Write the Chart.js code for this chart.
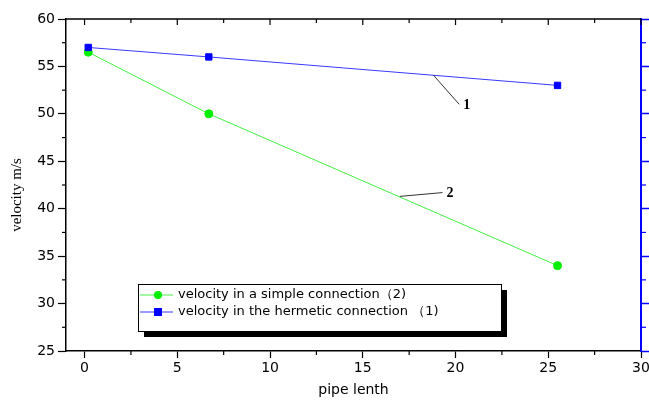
<!DOCTYPE html>
<html>
<head>
<meta charset="utf-8">
<script src="https://cdn.jsdelivr.net/npm/chart.js@4.4.1/dist/chart.umd.min.js"></script>
<style>
  html, body { margin: 0; padding: 0; background: #fff; }
  #wrap { width: 649px; height: 403px; }
</style>
</head>
<body>
<div id="wrap"><canvas id="velocityChart"></canvas></div>
<script>
// Data
const pipeLength = [0.2, 6.7, 25.5];
const simpleVelocity = [56.5, 50, 34];     // (2)
const hermeticVelocity = [57, 56, 53];     // (1)
const xTickValues = [0, 5, 10, 15, 20, 25, 30];
const yTickValues = [25, 30, 35, 40, 45, 50, 55, 60];

// Callout labels "1" and "2": line from a point on the curve to the label
const calloutText = ["1", "2"];
const calloutFromX = [18.8, 17.0];
const calloutFromY = [54.1, 41.3];
const calloutToX = [20.2, 19.3];
const calloutToY = [51.0, 41.7];

const FONT = "'DejaVu Sans', 'Liberation Sans', sans-serif";
const SERIF = "'Liberation Serif', 'DejaVu Serif', serif";

function toPoints(xs, ys) {
  return xs.map((x, i) => ({ x: x, y: ys[i] }));
}

function setTicks(values) {
  return (scale) => {
    scale.ticks = values.map((v) => ({ value: v }));
  };
}

// Frame: top axis, minor ticks, axis title, callouts and legend box
const framePlugin = {
  id: "frame",
  afterDraw(chart) {
    const { ctx, chartArea } = chart;
    const xs = chart.scales.x;
    const ys = chart.scales.y;
    ctx.save();

    // top axis line
    ctx.strokeStyle = "#000";
    ctx.lineWidth = 1.5;
    ctx.beginPath();
    ctx.moveTo(chartArea.left, chartArea.top);
    ctx.lineTo(chartArea.right, chartArea.top);
    ctx.stroke();

    // x ticks: top (inward) major + minor, bottom minor
    ctx.lineWidth = 1.2;
    xTickValues.forEach((v, i) => {
      const px = xs.getPixelForValue(v);
      ctx.beginPath();
      ctx.moveTo(px, chartArea.top);
      ctx.lineTo(px, chartArea.top + 6);
      ctx.stroke();
      if (i < xTickValues.length - 1) {
        const mx = xs.getPixelForValue(v + 2.5);
        ctx.beginPath();
        ctx.moveTo(mx, chartArea.top);
        ctx.lineTo(mx, chartArea.top + 4);
        ctx.moveTo(mx, chartArea.bottom);
        ctx.lineTo(mx, chartArea.bottom + 4);
        ctx.stroke();
      }
    });

    // y minor ticks: left black, right blue
    yTickValues.slice(0, -1).forEach((v) => {
      const my = ys.getPixelForValue(v + 2.5);
      ctx.strokeStyle = "#000";
      ctx.beginPath();
      ctx.moveTo(chartArea.left, my);
      ctx.lineTo(chartArea.left - 4, my);
      ctx.stroke();
      ctx.strokeStyle = "#0000ff";
      ctx.beginPath();
      ctx.moveTo(chartArea.right, my);
      ctx.lineTo(chartArea.right + 5, my);
      ctx.stroke();
    });

    // y axis title (serif)
    ctx.fillStyle = "#000";
    ctx.font = "15px " + SERIF;
    ctx.textAlign = "center";
    ctx.textBaseline = "middle";
    ctx.translate(17, 195);
    ctx.rotate(-Math.PI / 2);
    ctx.fillText("velocity m/s", 0, 0);
    ctx.setTransform(1, 0, 0, 1, 0, 0);

    // callouts
    ctx.strokeStyle = "#333";
    ctx.lineWidth = 1;
    ctx.font = "bold 14px " + SERIF;
    ctx.textAlign = "left";
    ctx.textBaseline = "middle";
    calloutText.forEach((t, i) => {
      const x0 = xs.getPixelForValue(calloutFromX[i]);
      const y0 = ys.getPixelForValue(calloutFromY[i]);
      const x1 = xs.getPixelForValue(calloutToX[i]);
      const y1 = ys.getPixelForValue(calloutToY[i]);
      ctx.beginPath();
      ctx.moveTo(x0, y0);
      ctx.lineTo(x1, y1);
      ctx.stroke();
      ctx.fillStyle = "#000";
      ctx.fillText(t, x1 + 4, y1 + 1);
    });

    // legend box with shadow
    const bx = 138, by = 284, bw = 363, bh = 47;
    ctx.fillStyle = "#000";
    ctx.fillRect(bx + 6, by + 6, bw, bh);
    ctx.fillStyle = "#fff";
    ctx.fillRect(bx, by, bw, bh);
    ctx.strokeStyle = "#000";
    ctx.lineWidth = 1;
    ctx.strokeRect(bx + 0.5, by + 0.5, bw, bh);

    ctx.font = "13px " + FONT;
    ctx.textBaseline = "middle";
    chart.data.datasets.forEach((ds, i) => {
      const ry = by + 11 + i * 17;
      ctx.strokeStyle = ds.borderColor;
      ctx.beginPath();
      ctx.moveTo(bx + 2, ry);
      ctx.lineTo(bx + 35, ry);
      ctx.stroke();
      ctx.fillStyle = ds.pointBackgroundColor;
      if (ds.pointStyle === "rect") {
        ctx.fillRect(bx + 16, ry - 4, 8, 8);
      } else {
        ctx.beginPath();
        ctx.arc(bx + 20, ry, 4, 0, Math.PI * 2);
        ctx.fill();
      }
      ctx.fillStyle = "#000";
      ctx.fillText(ds.label, bx + 40, ry);
    });

    ctx.restore();
  },
};

const ctx = document.getElementById("velocityChart").getContext("2d");
new Chart(ctx, {
  type: "scatter",
  data: {
    datasets: [
      {
        label: "velocity in a simple connection（2)",
        data: toPoints(pipeLength, simpleVelocity),
        showLine: true,
        borderColor: "#44ee44",
        borderWidth: 1,
        pointStyle: "circle",
        pointRadius: 4,
        pointBackgroundColor: "#00ee00",
        pointBorderColor: "#00ee00",
        order: 2,
      },
      {
        label: "velocity in the hermetic connection （1)",
        data: toPoints(pipeLength, hermeticVelocity),
        showLine: true,
        borderColor: "#3a3aff",
        borderWidth: 1,
        pointStyle: "rect",
        pointRadius: 4.5,
        pointBackgroundColor: "#0000ff",
        pointBorderColor: "#0000ff",
        order: 1,
      },
    ],
  },
  options: {
    responsive: true,
    maintainAspectRatio: false,
    animation: false,
    layout: { padding: { top: 19, left: 0, right: 0, bottom: 0 } },
    plugins: {
      legend: { display: false },
      tooltip: { enabled: false },
    },
    scales: {
      x: {
        type: "linear",
        min: -1,
        max: 30,
        afterBuildTicks: setTicks(xTickValues),
        afterFit: (s) => { s.height = 52; s.paddingLeft = 0; s.paddingRight = 0; },
        border: { display: true, color: "#000", width: 1.5 },
        grid: { drawOnChartArea: false, drawTicks: true, tickLength: 7, tickColor: "#000", tickWidth: 1.2 },
        ticks: { color: "#000", font: { family: FONT, size: 14 }, padding: 2, autoSkip: false, maxRotation: 0 },
        title: { display: true, text: "pipe lenth", color: "#000", font: { family: FONT, size: 14 }, padding: { top: 6 } },
      },
      y: {
        type: "linear",
        position: "left",
        min: 25,
        max: 60,
        afterBuildTicks: setTicks(yTickValues),
        afterFit: (s) => { s.width = 66; s.paddingTop = 0; s.paddingBottom = 0; },
        border: { display: true, color: "#000", width: 1.5 },
        grid: { drawOnChartArea: false, drawTicks: true, tickLength: 8, tickColor: "#000", tickWidth: 1.2 },
        ticks: { color: "#000", font: { family: FONT, size: 14 }, padding: 3, autoSkip: false },
      },
      y2: {
        type: "linear",
        position: "right",
        min: 25,
        max: 60,
        afterBuildTicks: setTicks(yTickValues),
        afterFit: (s) => { s.width = 8; s.paddingTop = 0; s.paddingBottom = 0; },
        border: { display: true, color: "#0000ff", width: 2 },
        grid: { drawOnChartArea: false, drawTicks: true, tickLength: 8, tickColor: "#0000ff", tickWidth: 1.5 },
        ticks: { display: false },
      },
    },
  },
  plugins: [framePlugin],
});
</script>
</body>
</html>
